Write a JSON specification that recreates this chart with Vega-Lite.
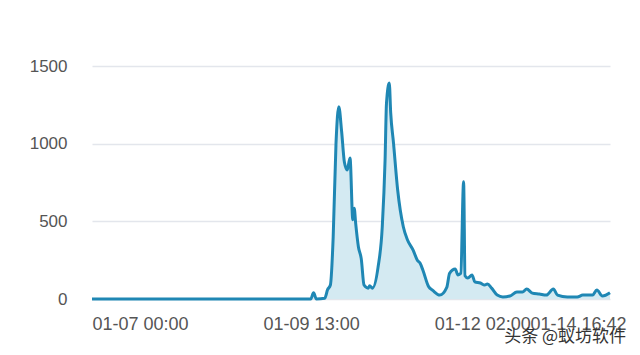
{
  "$schema": "https://vega.github.io/schema/vega-lite/v6.json",
  "width": 518,
  "height": 233,
  "autosize": "none",
  "padding": {"left": 92, "top": 66, "right": 30, "bottom": 56},
  "background": "#ffffff",
  "title": {"text": "头条 @蚁坊软件", "orient": "bottom", "anchor": "end", "offset": -4, "dx": 0, "font": "Noto Sans CJK SC", "fontSize": 17, "fontWeight": "normal", "color": "#333333"},
  "config": {"view": {"stroke": null}},
  "data": {"values": [
    {"t": "2023-01-07T00:00", "v": 0},
    {"t": "2023-01-08T14:00", "v": 0},
    {"t": "2023-01-10T06:00", "v": 0},
    {"t": "2023-01-10T07:00", "v": 40},
    {"t": "2023-01-10T08:00", "v": 0},
    {"t": "2023-01-10T11:00", "v": 5},
    {"t": "2023-01-10T12:00", "v": 60},
    {"t": "2023-01-10T13:00", "v": 90},
    {"t": "2023-01-10T14:00", "v": 400},
    {"t": "2023-01-10T15:00", "v": 1000},
    {"t": "2023-01-10T16:00", "v": 1237},
    {"t": "2023-01-10T17:00", "v": 1080},
    {"t": "2023-01-10T18:00", "v": 880},
    {"t": "2023-01-10T19:00", "v": 830},
    {"t": "2023-01-10T20:00", "v": 908},
    {"t": "2023-01-10T21:00", "v": 510},
    {"t": "2023-01-10T21:30", "v": 585},
    {"t": "2023-01-10T22:00", "v": 490},
    {"t": "2023-01-10T23:00", "v": 335},
    {"t": "2023-01-11T00:00", "v": 260},
    {"t": "2023-01-11T01:00", "v": 90},
    {"t": "2023-01-11T02:30", "v": 70},
    {"t": "2023-01-11T03:00", "v": 85},
    {"t": "2023-01-11T04:00", "v": 70},
    {"t": "2023-01-11T06:00", "v": 205},
    {"t": "2023-01-11T07:30", "v": 465},
    {"t": "2023-01-11T08:30", "v": 895},
    {"t": "2023-01-11T09:00", "v": 1260},
    {"t": "2023-01-11T10:00", "v": 1390},
    {"t": "2023-01-11T10:30", "v": 1200},
    {"t": "2023-01-11T11:30", "v": 1005},
    {"t": "2023-01-11T13:00", "v": 700},
    {"t": "2023-01-11T15:00", "v": 465},
    {"t": "2023-01-11T16:30", "v": 380},
    {"t": "2023-01-11T18:30", "v": 315},
    {"t": "2023-01-11T20:00", "v": 250},
    {"t": "2023-01-11T21:00", "v": 230},
    {"t": "2023-01-11T22:00", "v": 185},
    {"t": "2023-01-12T00:00", "v": 80},
    {"t": "2023-01-12T01:30", "v": 55},
    {"t": "2023-01-12T04:00", "v": 25},
    {"t": "2023-01-12T06:30", "v": 75},
    {"t": "2023-01-12T07:30", "v": 165},
    {"t": "2023-01-12T09:30", "v": 193},
    {"t": "2023-01-12T10:30", "v": 155},
    {"t": "2023-01-12T11:30", "v": 165},
    {"t": "2023-01-12T12:30", "v": 755},
    {"t": "2023-01-12T13:00", "v": 150},
    {"t": "2023-01-12T14:00", "v": 135},
    {"t": "2023-01-12T15:30", "v": 155},
    {"t": "2023-01-12T16:30", "v": 110},
    {"t": "2023-01-12T18:30", "v": 103},
    {"t": "2023-01-12T20:00", "v": 90},
    {"t": "2023-01-12T21:00", "v": 97},
    {"t": "2023-01-12T22:30", "v": 70},
    {"t": "2023-01-13T00:30", "v": 25},
    {"t": "2023-01-13T02:30", "v": 13},
    {"t": "2023-01-13T05:00", "v": 19},
    {"t": "2023-01-13T07:30", "v": 45},
    {"t": "2023-01-13T09:30", "v": 45},
    {"t": "2023-01-13T11:00", "v": 64},
    {"t": "2023-01-13T13:00", "v": 38},
    {"t": "2023-01-13T15:30", "v": 32},
    {"t": "2023-01-13T18:00", "v": 25},
    {"t": "2023-01-13T20:30", "v": 64},
    {"t": "2023-01-13T22:00", "v": 25},
    {"t": "2023-01-14T01:30", "v": 13},
    {"t": "2023-01-14T05:00", "v": 13},
    {"t": "2023-01-14T07:00", "v": 25},
    {"t": "2023-01-14T10:30", "v": 25},
    {"t": "2023-01-14T12:00", "v": 58},
    {"t": "2023-01-14T14:00", "v": 19},
    {"t": "2023-01-14T16:42", "v": 40}
  ]},
  "mark": {"type": "area", "interpolate": "monotone", "color": "#d4eaf2", "opacity": 1, "line": {"color": "#1f87b4", "strokeWidth": 3}},
  "encoding": {
    "x": {
      "field": "t", "type": "temporal",
      "scale": {"domain": [{"year": 2023, "month": 1, "date": 7, "hours": 0}, {"year": 2023, "month": 1, "date": 14, "hours": 16, "minutes": 42}]},
      "axis": {
        "title": null,
        "values": [
          {"year": 2023, "month": 1, "date": 7, "hours": 0},
          {"year": 2023, "month": 1, "date": 9, "hours": 13},
          {"year": 2023, "month": 1, "date": 12, "hours": 2},
          {"year": 2023, "month": 1, "date": 14, "hours": 16, "minutes": 42}
        ],
        "format": "%m-%d %H:%M",
        "grid": false, "domain": false, "ticks": false,
        "labelAlign": "left",
        "labelOffset": {"condition": {"test": "datum.value > datetime(2023, 0, 14, 0, 0)", "value": -80}, "value": 0},
        "labelFont": "Liberation Sans", "labelFontSize": 18, "labelColor": "#555555",
        "labelPadding": 16, "labelOverlap": false, "labelBound": false, "labelFlush": false
      }
    },
    "y": {
      "field": "v", "type": "quantitative",
      "scale": {"domain": [0, 1500]},
      "axis": {
        "title": null, "values": [0, 500, 1000, 1500], "format": "d",
        "domain": false, "ticks": false,
        "gridColor": "#e3e6ec", "gridWidth": 1.5,
        "labelFont": "Liberation Sans", "labelFontSize": 17, "labelColor": "#555555",
        "labelPadding": 25
      }
    }
  }
}
